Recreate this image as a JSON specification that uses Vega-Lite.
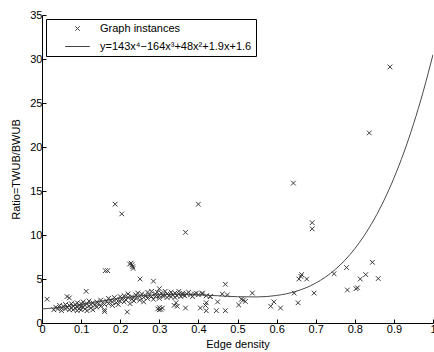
{
  "$schema": "https://vega.github.io/schema/vega-lite/v6.json",
  "width": 391,
  "height": 308,
  "autosize": {"type": "none"},
  "padding": {"left": 42, "top": 15, "right": 1, "bottom": 29},
  "background": "white",
  "config": {
    "view": {"stroke": null},
    "font": "Liberation Sans",
    "axis": {
      "domainColor": "black", "tickColor": "black", "labelColor": "black", "titleColor": "black",
      "labelFont": "Liberation Sans", "titleFont": "Liberation Sans",
      "labelFontSize": 11, "titleFontSize": 11, "titleFontWeight": "normal",
      "grid": false, "tickSize": -4, "labelPadding": 4, "labelOverlap": false
    },
    "legend": {"labelFont": "Liberation Sans"}
  },
  "datasets": {
    "points": [
      {"density":0.013,"ratio":2.7,"series":"Graph instances"},{"density":0.064,"ratio":3.0,"series":"Graph instances"},{"density":0.07,"ratio":2.85,"series":"Graph instances"},{"density":0.113,"ratio":3.6,"series":"Graph instances"},{"density":0.16,"ratio":1.3,"series":"Graph instances"},{"density":0.218,"ratio":1.25,"series":"Graph instances"},
      {"density":0.162,"ratio":5.95,"series":"Graph instances"},{"density":0.168,"ratio":5.95,"series":"Graph instances"},{"density":0.224,"ratio":6.7,"series":"Graph instances"},{"density":0.23,"ratio":6.6,"series":"Graph instances"},{"density":0.232,"ratio":6.4,"series":"Graph instances"},{"density":0.233,"ratio":6.2,"series":"Graph instances"},{"density":0.228,"ratio":6.8,"series":"Graph instances"},
      {"density":0.251,"ratio":5.0,"series":"Graph instances"},{"density":0.285,"ratio":4.75,"series":"Graph instances"},{"density":0.187,"ratio":13.5,"series":"Graph instances"},{"density":0.204,"ratio":12.4,"series":"Graph instances"},{"density":0.367,"ratio":10.3,"series":"Graph instances"},{"density":0.40,"ratio":13.5,"series":"Graph instances"},
      {"density":0.296,"ratio":1.6,"series":"Graph instances"},{"density":0.30,"ratio":1.75,"series":"Graph instances"},{"density":0.304,"ratio":1.55,"series":"Graph instances"},{"density":0.308,"ratio":1.7,"series":"Graph instances"},{"density":0.30,"ratio":1.5,"series":"Graph instances"},
      {"density":0.343,"ratio":2.3,"series":"Graph instances"},{"density":0.346,"ratio":1.9,"series":"Graph instances"},{"density":0.367,"ratio":1.7,"series":"Graph instances"},{"density":0.338,"ratio":2.0,"series":"Graph instances"},
      {"density":0.405,"ratio":1.7,"series":"Graph instances"},{"density":0.418,"ratio":2.0,"series":"Graph instances"},{"density":0.42,"ratio":1.4,"series":"Graph instances"},{"density":0.449,"ratio":2.4,"series":"Graph instances"},{"density":0.446,"ratio":1.4,"series":"Graph instances"},{"density":0.469,"ratio":1.4,"series":"Graph instances"},{"density":0.42,"ratio":2.3,"series":"Graph instances"},
      {"density":0.41,"ratio":3.4,"series":"Graph instances"},{"density":0.431,"ratio":3.0,"series":"Graph instances"},{"density":0.461,"ratio":3.3,"series":"Graph instances"},{"density":0.474,"ratio":3.2,"series":"Graph instances"},{"density":0.469,"ratio":4.4,"series":"Graph instances"},
      {"density":0.503,"ratio":2.05,"series":"Graph instances"},{"density":0.51,"ratio":2.7,"series":"Graph instances"},{"density":0.52,"ratio":2.45,"series":"Graph instances"},{"density":0.515,"ratio":2.6,"series":"Graph instances"},{"density":0.538,"ratio":3.4,"series":"Graph instances"},
      {"density":0.585,"ratio":1.9,"series":"Graph instances"},{"density":0.593,"ratio":2.4,"series":"Graph instances"},{"density":0.61,"ratio":1.7,"series":"Graph instances"},
      {"density":0.645,"ratio":3.4,"series":"Graph instances"},{"density":0.655,"ratio":2.3,"series":"Graph instances"},{"density":0.696,"ratio":3.4,"series":"Graph instances"},
      {"density":0.657,"ratio":5.0,"series":"Graph instances"},{"density":0.662,"ratio":5.3,"series":"Graph instances"},{"density":0.664,"ratio":5.5,"series":"Graph instances"},{"density":0.677,"ratio":5.0,"series":"Graph instances"},
      {"density":0.747,"ratio":5.6,"series":"Graph instances"},{"density":0.779,"ratio":6.3,"series":"Graph instances"},{"density":0.845,"ratio":6.9,"series":"Graph instances"},{"density":0.781,"ratio":3.75,"series":"Graph instances"},{"density":0.803,"ratio":3.9,"series":"Graph instances"},{"density":0.807,"ratio":4.0,"series":"Graph instances"},{"density":0.814,"ratio":5.0,"series":"Graph instances"},{"density":0.828,"ratio":5.5,"series":"Graph instances"},{"density":0.86,"ratio":5.05,"series":"Graph instances"},
      {"density":0.643,"ratio":15.9,"series":"Graph instances"},{"density":0.691,"ratio":11.4,"series":"Graph instances"},{"density":0.691,"ratio":10.7,"series":"Graph instances"},{"density":0.837,"ratio":21.6,"series":"Graph instances"},{"density":0.89,"ratio":29.1,"series":"Graph instances"},
      {"density":0.03,"ratio":1.5,"series":"Graph instances"},{"density":0.035,"ratio":1.8,"series":"Graph instances"},{"density":0.04,"ratio":1.6,"series":"Graph instances"},{"density":0.045,"ratio":2.0,"series":"Graph instances"},{"density":0.05,"ratio":1.7,"series":"Graph instances"},{"density":0.05,"ratio":1.4,"series":"Graph instances"},{"density":0.055,"ratio":1.9,"series":"Graph instances"},{"density":0.06,"ratio":1.6,"series":"Graph instances"},{"density":0.06,"ratio":2.1,"series":"Graph instances"},{"density":0.065,"ratio":1.8,"series":"Graph instances"},
      {"density":0.07,"ratio":1.5,"series":"Graph instances"},{"density":0.07,"ratio":2.0,"series":"Graph instances"},{"density":0.075,"ratio":1.7,"series":"Graph instances"},{"density":0.075,"ratio":2.2,"series":"Graph instances"},{"density":0.08,"ratio":1.9,"series":"Graph instances"},{"density":0.08,"ratio":1.5,"series":"Graph instances"},{"density":0.085,"ratio":2.1,"series":"Graph instances"},{"density":0.085,"ratio":1.7,"series":"Graph instances"},{"density":0.09,"ratio":1.8,"series":"Graph instances"},{"density":0.09,"ratio":2.3,"series":"Graph instances"},
      {"density":0.09,"ratio":1.4,"series":"Graph instances"},{"density":0.095,"ratio":2.0,"series":"Graph instances"},{"density":0.095,"ratio":1.6,"series":"Graph instances"},{"density":0.1,"ratio":1.9,"series":"Graph instances"},{"density":0.1,"ratio":2.2,"series":"Graph instances"},{"density":0.1,"ratio":1.5,"series":"Graph instances"},{"density":0.105,"ratio":1.8,"series":"Graph instances"},{"density":0.105,"ratio":2.4,"series":"Graph instances"},{"density":0.11,"ratio":2.0,"series":"Graph instances"},{"density":0.11,"ratio":1.6,"series":"Graph instances"},
      {"density":0.115,"ratio":2.2,"series":"Graph instances"},{"density":0.115,"ratio":1.4,"series":"Graph instances"},{"density":0.12,"ratio":1.9,"series":"Graph instances"},{"density":0.12,"ratio":2.5,"series":"Graph instances"},{"density":0.125,"ratio":2.1,"series":"Graph instances"},{"density":0.125,"ratio":1.7,"series":"Graph instances"},{"density":0.13,"ratio":2.3,"series":"Graph instances"},{"density":0.13,"ratio":1.5,"series":"Graph instances"},{"density":0.135,"ratio":2.0,"series":"Graph instances"},{"density":0.14,"ratio":2.4,"series":"Graph instances"},
      {"density":0.14,"ratio":1.8,"series":"Graph instances"},{"density":0.145,"ratio":2.2,"series":"Graph instances"},{"density":0.15,"ratio":2.6,"series":"Graph instances"},{"density":0.15,"ratio":1.9,"series":"Graph instances"},{"density":0.155,"ratio":2.3,"series":"Graph instances"},{"density":0.16,"ratio":1.5,"series":"Graph instances"},{"density":0.16,"ratio":2.1,"series":"Graph instances"},{"density":0.165,"ratio":2.5,"series":"Graph instances"},{"density":0.17,"ratio":2.8,"series":"Graph instances"},{"density":0.17,"ratio":2.2,"series":"Graph instances"},
      {"density":0.175,"ratio":2.6,"series":"Graph instances"},{"density":0.18,"ratio":2.0,"series":"Graph instances"},{"density":0.18,"ratio":2.4,"series":"Graph instances"},{"density":0.185,"ratio":2.9,"series":"Graph instances"},{"density":0.19,"ratio":2.3,"series":"Graph instances"},{"density":0.19,"ratio":2.7,"series":"Graph instances"},{"density":0.195,"ratio":2.1,"series":"Graph instances"},{"density":0.2,"ratio":2.5,"series":"Graph instances"},{"density":0.2,"ratio":3.0,"series":"Graph instances"},{"density":0.205,"ratio":2.8,"series":"Graph instances"},
      {"density":0.21,"ratio":2.4,"series":"Graph instances"},{"density":0.21,"ratio":3.1,"series":"Graph instances"},{"density":0.215,"ratio":2.6,"series":"Graph instances"},{"density":0.22,"ratio":2.9,"series":"Graph instances"},{"density":0.22,"ratio":3.3,"series":"Graph instances"},{"density":0.225,"ratio":2.2,"series":"Graph instances"},{"density":0.23,"ratio":2.7,"series":"Graph instances"},{"density":0.23,"ratio":3.0,"series":"Graph instances"},{"density":0.235,"ratio":2.5,"series":"Graph instances"},{"density":0.24,"ratio":3.2,"series":"Graph instances"},
      {"density":0.24,"ratio":2.8,"series":"Graph instances"},{"density":0.245,"ratio":3.4,"series":"Graph instances"},{"density":0.25,"ratio":2.6,"series":"Graph instances"},{"density":0.25,"ratio":3.0,"series":"Graph instances"},{"density":0.255,"ratio":3.3,"series":"Graph instances"},{"density":0.26,"ratio":2.9,"series":"Graph instances"},{"density":0.26,"ratio":2.4,"series":"Graph instances"},{"density":0.265,"ratio":3.1,"series":"Graph instances"},{"density":0.27,"ratio":3.5,"series":"Graph instances"},{"density":0.27,"ratio":2.8,"series":"Graph instances"},
      {"density":0.275,"ratio":3.2,"series":"Graph instances"},{"density":0.28,"ratio":3.0,"series":"Graph instances"},{"density":0.28,"ratio":3.6,"series":"Graph instances"},{"density":0.285,"ratio":2.7,"series":"Graph instances"},{"density":0.29,"ratio":3.3,"series":"Graph instances"},{"density":0.29,"ratio":3.0,"series":"Graph instances"},{"density":0.295,"ratio":3.5,"series":"Graph instances"},{"density":0.3,"ratio":3.1,"series":"Graph instances"},{"density":0.3,"ratio":2.8,"series":"Graph instances"},{"density":0.3,"ratio":3.9,"series":"Graph instances"},
      {"density":0.305,"ratio":3.4,"series":"Graph instances"},{"density":0.31,"ratio":3.0,"series":"Graph instances"},{"density":0.31,"ratio":3.2,"series":"Graph instances"},{"density":0.315,"ratio":3.6,"series":"Graph instances"},{"density":0.32,"ratio":2.9,"series":"Graph instances"},{"density":0.32,"ratio":3.3,"series":"Graph instances"},{"density":0.325,"ratio":3.1,"series":"Graph instances"},{"density":0.33,"ratio":3.5,"series":"Graph instances"},{"density":0.33,"ratio":3.0,"series":"Graph instances"},{"density":0.335,"ratio":3.2,"series":"Graph instances"},
      {"density":0.34,"ratio":3.4,"series":"Graph instances"},{"density":0.34,"ratio":2.9,"series":"Graph instances"},{"density":0.345,"ratio":3.1,"series":"Graph instances"},{"density":0.35,"ratio":3.3,"series":"Graph instances"},{"density":0.35,"ratio":3.6,"series":"Graph instances"},{"density":0.355,"ratio":3.0,"series":"Graph instances"},{"density":0.36,"ratio":3.2,"series":"Graph instances"},{"density":0.36,"ratio":3.4,"series":"Graph instances"},{"density":0.365,"ratio":3.1,"series":"Graph instances"},{"density":0.37,"ratio":3.3,"series":"Graph instances"},
      {"density":0.375,"ratio":3.5,"series":"Graph instances"},{"density":0.38,"ratio":3.2,"series":"Graph instances"},{"density":0.385,"ratio":3.0,"series":"Graph instances"},{"density":0.39,"ratio":3.3,"series":"Graph instances"},{"density":0.395,"ratio":3.4,"series":"Graph instances"},{"density":0.4,"ratio":3.2,"series":"Graph instances"},{"density":0.41,"ratio":3.3,"series":"Graph instances"},{"density":0.42,"ratio":3.1,"series":"Graph instances"},{"density":0.43,"ratio":3.0,"series":"Graph instances"}
    ],
    "curve": [
      {"density":0,"ratio":1.6},{"density":0.05,"ratio":1.795},{"density":0.1,"ratio":2.12},{"density":0.15,"ratio":2.484},{"density":0.2,"ratio":2.817},{"density":0.25,"ratio":3.071},{"density":0.3,"ratio":3.22},{"density":0.35,"ratio":3.259},{"density":0.4,"ratio":3.205},{"density":0.45,"ratio":3.094},{"density":0.5,"ratio":2.988},{"density":0.55,"ratio":2.965},{"density":0.6,"ratio":3.129},{"density":0.65,"ratio":3.603},{"density":0.7,"ratio":4.532},{"density":0.725,"ratio":5.219},{"density":0.75,"ratio":6.084},{"density":0.775,"ratio":7.15},{"density":0.8,"ratio":8.445},{"density":0.825,"ratio":9.994},{"density":0.85,"ratio":11.825},{"density":0.875,"ratio":13.969},{"density":0.9,"ratio":16.456},{"density":0.925,"ratio":19.319},{"density":0.95,"ratio":22.59},{"density":0.975,"ratio":26.305},{"density":1,"ratio":30.5}
    ]
  },
  "encoding": {
    "x": {"field": "density", "type": "quantitative", "scale": {"domain": [0, 1], "nice": false},
      "axis": {"title": "Edge density", "values": [0,0.1,0.2,0.3,0.4,0.5,0.6,0.7,0.8,0.9,1], "labelExpr": "datum.value == 0 ? '0' : datum.value == 1 ? '1' : format(datum.value, '.1f')", "titlePadding": 4, "labelOverlap": false, "labelFlush": false, "labelBound": false}},
    "y": {"field": "ratio", "type": "quantitative", "scale": {"domain": [0, 35], "nice": false},
      "axis": {"title": "Ratio=TWUB/BWUB", "values": [0,5,10,15,20,25,30,35], "titlePadding": 8, "labelOverlap": false}}
  },
  "layer": [
    {
      "data": {"name": "curve"},
      "mark": {"type": "line", "color": "#4a4a4a", "strokeWidth": 1, "interpolate": "monotone", "clip": true}
    },
    {
      "data": {"name": "points"},
      "mark": {"type": "point", "filled": false, "strokeWidth": 1, "opacity": 1, "size": 22},
      "encoding": {
        "color": {"value": "#3a3a3a"},
        "shape": {
          "field": "series", "type": "nominal",
          "scale": {"domain": ["Graph instances", "y=143x⁴−164x³+48x²+1.9x+1.6"], "range": ["M-1,-1L1,1M-1,1L1,-1", "M-5.5,0L5.5,0"]},
          "legend": {
            "title": null, "orient": "top-left", "offset": 4,
            "strokeColor": "black", "fillColor": "white", "padding": 4,
            "labelFontSize": 11, "labelColor": "black", "labelLimit": 400,
            "symbolSize": 20, "symbolStrokeColor": "#444444", "symbolStrokeWidth": 1, "symbolFillColor": "transparent",
            "symbolOffset": 22, "labelOffset": 17, "rowPadding": 6
          }
        }
      }
    }
  ]
}
